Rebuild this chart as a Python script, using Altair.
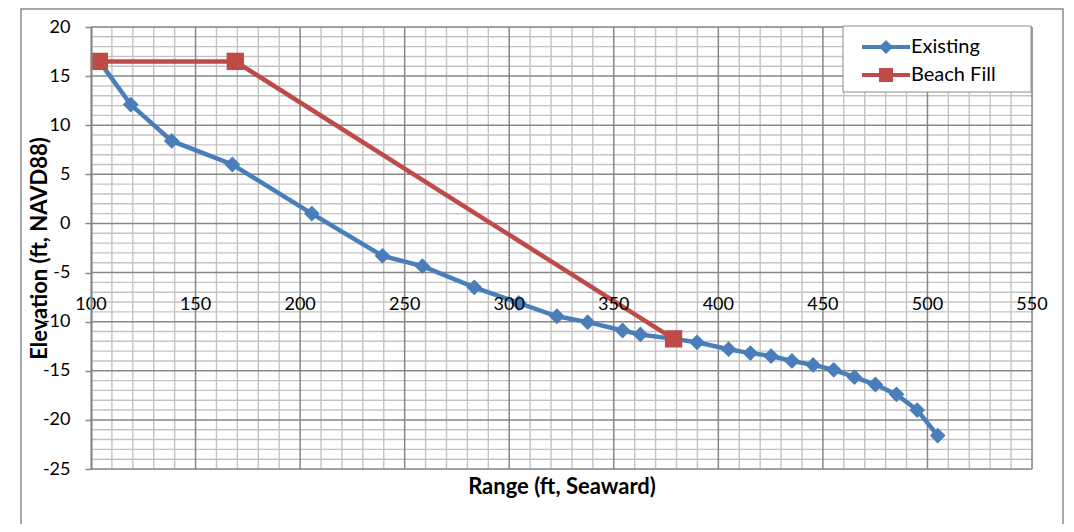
import altair as alt
import pandas as pd

# ---------------- data ----------------
series_names = ["Existing", "Beach Fill"]
series_colors = ["#4A7EBB", "#BE4B48"]

existing_range = [104, 119, 138.6, 167.6, 205.6, 239.4, 258.5, 283.3, 304.5, 322.8,
                  337.5, 354.2, 362.7, 378.6, 389.8, 404.9, 415.3, 425.2, 435.2, 445.3,
                  455.2, 465.1, 475.1, 485.2, 495.1, 504.9]
existing_elev = [16.5, 12.1, 8.4, 6.0, 1.0, -3.3, -4.35, -6.5, -8.1, -9.45,
                 -10.05, -10.9, -11.3, -11.75, -12.1, -12.8, -13.2, -13.5, -14.0, -14.4,
                 -14.9, -15.65, -16.4, -17.4, -19.0, -21.6]

fill_range = [104, 169, 378.6]
fill_elev = [16.5, 16.5, -11.75]

x_label_ticks = [100, 150, 200, 250, 300, 350, 400, 450, 500, 550]
y_ticks = [-25, -20, -15, -10, -5, 0, 5, 10, 15, 20]
x_major_grid = [150, 200, 250, 300, 350, 400, 450, 500, 550]
x_minor_grid = [v for v in range(110, 550, 10) if v % 50 != 0]
y_major_grid = [-25, -20, -15, -10, -5, 0, 5, 10, 15, 20]
y_minor_grid = [v for v in range(-24, 20) if v % 5 != 0]
x_axis_cross = -7

FONT = "Lato"
MAJOR = "#878787"
MINOR = "#C3C3C3"

df_ex = pd.DataFrame({"range": existing_range, "elev": existing_elev})
df_fill = pd.DataFrame({"range": fill_range, "elev": fill_elev})
one = pd.DataFrame({"k": [0]})

xs = alt.Scale(domain=[100, 550], nice=False, zero=False)
ys = alt.Scale(domain=[-25, 20], nice=False, zero=False)

x_axis = alt.Axis(labels=False, ticks=False, domain=False, grid=False,
                  title="Range (ft, Seaward)", titleFont=FONT, titleFontSize=22,
                  titleFontWeight="bold", titleColor="black", titlePadding=7)
y_axis = alt.Axis(values=y_ticks, grid=False, labelFont=FONT, labelFontSize=18,
                  labelColor="black", labelPadding=15, tickSize=6, tickColor=MAJOR,
                  tickWidth=1.5, domainColor=MAJOR, domainWidth=2.2, zindex=1,
                  labelExpr="'' + datum.value",
                  title="Elevation (ft, NAVD88)", titleFont=FONT, titleFontSize=22,
                  titleFontWeight="bold", titleColor="black", titleX=-52, titleY=221,
                  titleAngle=270, titleBaseline="middle")


def X(field):
    return alt.X(field, scale=xs, axis=x_axis)


def Y(field):
    return alt.Y(field, scale=ys, axis=y_axis)


frame = alt.Chart(one).mark_rect(fillOpacity=0, stroke="#8C8C8C", strokeWidth=1.5).encode(
    x=alt.value(-70), x2=alt.value(972), y=alt.value(-18), y2=alt.value(560))


def vrules(vals, color, w):
    return alt.Chart(pd.DataFrame({"v": vals})).mark_rule(color=color, strokeWidth=w).encode(
        x=X("v:Q"))


def hrules(vals, color, w):
    return alt.Chart(pd.DataFrame({"v": vals})).mark_rule(color=color, strokeWidth=w).encode(
        y=Y("v:Q"))


legend_paths = [
    "M-3.43,-0.29L3.43,-0.29L3.43,0.29L-3.43,0.29Z M0,-1L1,0L0,1L-1,0Z",
    "M-3.43,-0.29L3.43,-0.29L3.43,0.29L-3.43,0.29Z M-1,-1L1,-1L1,1L-1,1Z",
]
leg = alt.Legend(title=None, orient="none", legendX=771, legendY=10, labelFont=FONT,
                 labelFontSize=20, labelColor="black", symbolSize=196, symbolOffset=14,
                 labelOffset=15, rowPadding=8, padding=0, symbolStrokeWidth=0)
# legend source: drawn inside the legend box and covered by it
legend_src = alt.Chart(pd.DataFrame({"series": series_names})).mark_point(
    filled=True, opacity=1, size=196).encode(
    x=alt.value(820), y=alt.value(30),
    color=alt.Color("series:N", scale=alt.Scale(domain=series_names, range=series_colors),
                    legend=leg, sort=series_names),
    shape=alt.Shape("series:N", scale=alt.Scale(domain=series_names, range=legend_paths),
                    legend=leg, sort=series_names))

legend_box = alt.Chart(one).mark_rect(fill="white", stroke="#8C8C8C", strokeWidth=1).encode(
    x=alt.value(752), x2=alt.value(940), y=alt.value(-1), y2=alt.value(65))

ex_line = alt.Chart(df_ex).mark_line(color=series_colors[0], strokeWidth=4.5).encode(
    x=X("range:Q"), y=Y("elev:Q"))
ex_pts = alt.Chart(df_ex).mark_point(filled=True, shape="diamond", size=250, opacity=1,
                                     color=series_colors[0]).encode(
    x=X("range:Q"), y=Y("elev:Q"))
fill_line = alt.Chart(df_fill).mark_line(color=series_colors[1], strokeWidth=4.5).encode(
    x=X("range:Q"), y=Y("elev:Q"))
fill_pts = alt.Chart(df_fill).mark_point(filled=True, shape="square", size=300, opacity=1,
                                         color=series_colors[1]).encode(
    x=X("range:Q"), y=Y("elev:Q"))

x_labels = alt.Chart(pd.DataFrame({"v": x_label_ticks})).mark_text(
    font=FONT, fontSize=18, baseline="top", dy=4, color="black").encode(
    x=X("v:Q"),
    y=alt.YDatum(datum=x_axis_cross, scale=ys, axis=y_axis),
    text=alt.Text("v:Q"))

chart = alt.layer(
    frame,
    vrules(x_minor_grid, MINOR, 1.4), hrules(y_minor_grid, MINOR, 1.4),
    vrules(x_major_grid, MAJOR, 1.5), hrules(y_major_grid, MAJOR, 1.5),
    legend_src, legend_box,
    ex_line, ex_pts, fill_line, fill_pts, x_labels,
).properties(
    width=941, height=442,
    autosize=alt.AutoSizeParams(type="none"),
    padding={"left": 83, "top": 19, "right": 34, "bottom": 55},
    background="white",
).configure_view(stroke=None).configure(font=FONT)

chart.save("out.html", embed_options={"renderer": "svg", "actions": False})
